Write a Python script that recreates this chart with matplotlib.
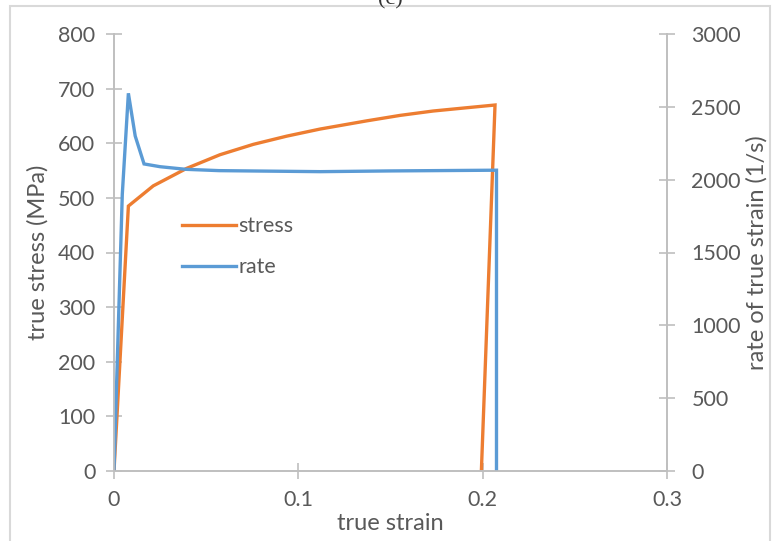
import numpy as np
from matplotlib import pyplot as plt
from matplotlib.patches import Rectangle

plt.rcParams['font.family'] = ['Lato', 'DejaVu Sans']

# true strain vs true stress (MPa)
stress_strain = [0, 0.0078, 0.0213, 0.0394, 0.0575, 0.0756, 0.0937, 0.1118,
                 0.1371, 0.1552, 0.1731, 0.1913, 0.2067, 0.1993]
stress = [0, 485, 522, 554, 579, 598, 613, 626, 641, 651, 659, 665, 670, 0]

# true strain vs rate of true strain (1/s)
rate_strain = [0, 0.0045, 0.0078, 0.0115, 0.0163, 0.025, 0.039, 0.057,
               0.1118, 0.15, 0.2075, 0.2075]
rate = [0, 1900, 2593, 2300, 2108, 2089, 2071, 2062, 2055, 2060, 2065, 0]

orange = '#ED7D31'
blue = '#5B9BD5'
grey = '#BFBFBF'
txt = '#595959'
fs_tick = 15.5
fs_lab = 17

fig = plt.figure(figsize=(7.74, 5.41), dpi=100)
ax = fig.add_axes([114 / 774, 70 / 541, 553 / 774, 437 / 541])
ax2 = ax.twinx()

l1, = ax.plot(stress_strain, stress, color=orange, lw=2.4, label='stress',
              solid_joinstyle='miter')
l2, = ax2.plot(rate_strain, rate, color=blue, lw=2.4, label='rate',
               solid_joinstyle='miter')

ax.set_xlim(0, 0.3)
ax.set_ylim(0, 800)
ax2.set_ylim(0, 3000)
ax.set_xticks([0, 0.1, 0.2, 0.3])
ax.set_xticklabels(['0', '0.1', '0.2', '0.3'])
ax.set_yticks(range(0, 801, 100))
ax2.set_yticks(range(0, 3001, 500))

for a in (ax, ax2):
    for s in a.spines.values():
        s.set_color(grey)
        s.set_linewidth(1.2)
    a.spines['top'].set_visible(False)
    a.tick_params(colors=grey, labelcolor=txt, labelsize=fs_tick, direction='inout',
                  length=11, width=1.2)
ax.tick_params(axis='y', pad=8)
ax.tick_params(axis='x', pad=8)
ax2.tick_params(axis='y', pad=12)

ax.set_xlabel('true strain', fontsize=fs_lab, color=txt, labelpad=2)
ax.set_ylabel('true stress (MPa)', fontsize=fs_lab, color=txt, labelpad=7)
ax2.set_ylabel('rate of true strain (1/s)', fontsize=fs_lab, color=txt, labelpad=4)

ax.legend([l1, l2], ['stress', 'rate'], loc='upper left',
          bbox_to_anchor=(0.088, 0.627), frameon=False, fontsize=fs_tick,
          labelcolor=txt, handlelength=2.5, handletextpad=0.1, labelspacing=0.98)

# outer chart frame
fig.patches.append(Rectangle((10 / 774, -0.01), 760 / 774, 1 - 6 / 541 + 0.01,
                             transform=fig.transFigure, fill=False,
                             edgecolor='#D9D9D9', lw=1.5))
fig.text(390 / 774, 1.0, '(c)', ha='center', va='center', fontsize=16,
         family='Liberation Serif', color='#333333')

fig.savefig('out.png', dpi=100)
